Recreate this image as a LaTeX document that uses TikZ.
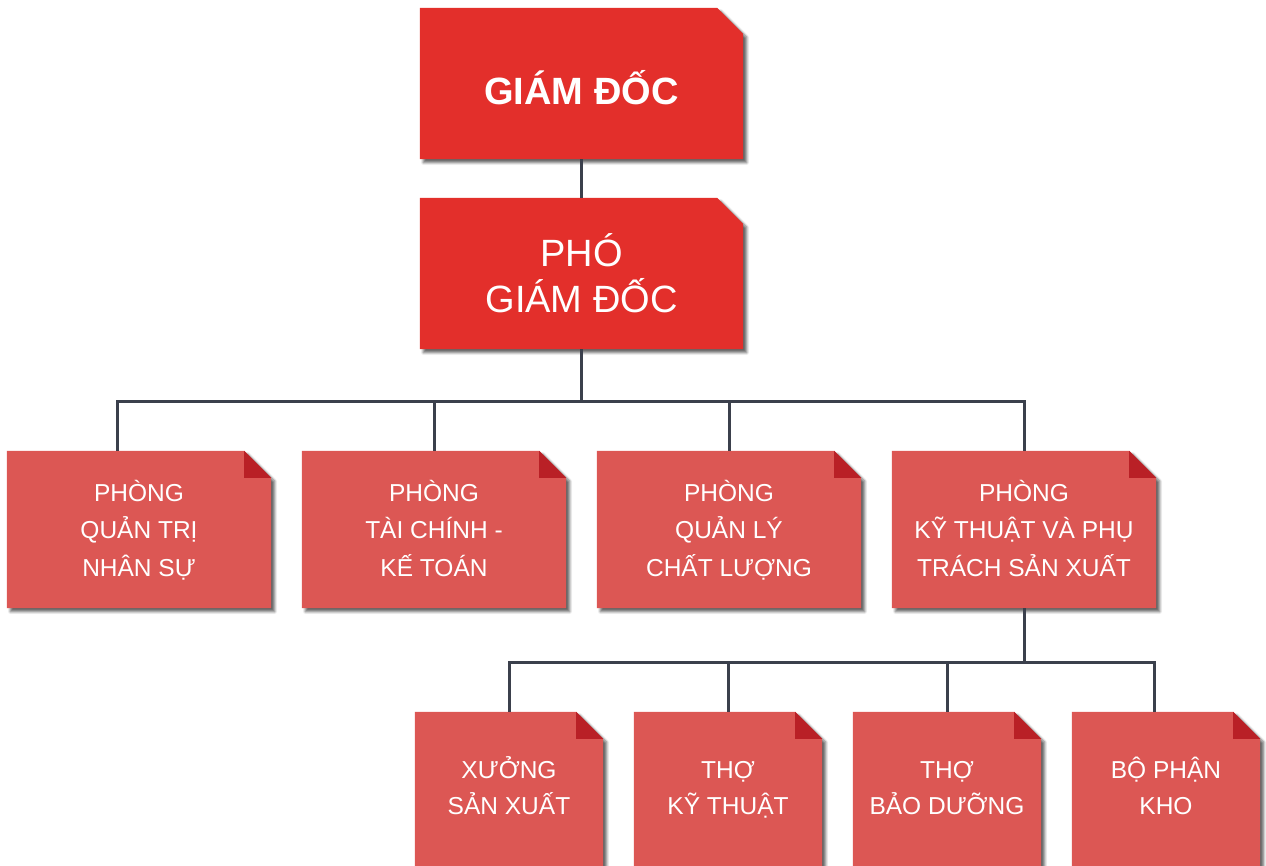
\documentclass[tikz,border=0pt]{standalone}
\usepackage{fontspec}
\setmainfont{Liberation Sans}
\usetikzlibrary{shadows.blur,calc}
\definecolor{topred}{HTML}{E32F2B}
\definecolor{boxred}{HTML}{DC5754}
\definecolor{foldred}{HTML}{B92026}
\definecolor{linec}{HTML}{3B404C}
\pgfdeclarelayer{bg}
\pgfsetlayers{bg,main}
\newcommand{\cutshape}[3]{% node, cut size, colour
  \path[fill=#3, shad] (#1.north west) -- ($(#1.north east)+(-#2,0)$) -- ($(#1.north east)+(0,#2)$) -- (#1.south east) -- (#1.south west) -- cycle;}
\newcommand{\foldmark}[2]{% node, size
  \fill[foldred] ($(#1.north east)+(-#2,0)$) -- ($(#1.north east)+(-#2,#2)$) -- ($(#1.north east)+(0,#2)$) -- cycle;}
\newcommand{\topph}{\vphantom{Ở}}
\newcommand{\botph}{\vphantom{Ợ}}
\begin{document}
\begin{tikzpicture}[x=1pt,y=-1pt,
  shad/.style={blur shadow={shadow xshift=3.5pt,shadow yshift=-3.5pt,shadow opacity=60,shadow blur radius=2.5pt,shadow blur steps=6}},
  base/.style={rectangle, inner sep=0pt, align=center, text=white},
  topbox/.style={base, minimum width=323pt, minimum height=151pt, font=\fontsize{38}{46}\selectfont},
  midbox/.style={base, minimum width=264pt, minimum height=157pt, font=\fontsize{24.5}{37.5}\selectfont},
  lowbox/.style={base, minimum width=188pt, minimum height=157pt, font=\fontsize{24.5}{36.5}\selectfont},
  conn/.style={draw=linec, line width=3pt}
]
\useasboundingbox (0,0) rectangle (1266,866);
\clip (0,0) rectangle (1266,866);

% top boxes
\node[topbox] (gd) at (581.5,83.5) {};
\node[base, font=\fontsize{38}{46}\selectfont\bfseries] (gdt) at (581.5,88) {GIÁM ĐỐC};
\node[topbox] (pgd) at (581.5,273.5) {PHÓ\\GIÁM ĐỐC};

% level 2
\node[midbox] (b1) at (139,529.5) {\topph PHÒNG\\QUẢN TRỊ\\NHÂN SỰ\botph};
\node[midbox] (b2) at (434,529.5) {\topph PHÒNG\\TÀI CHÍNH -\\KẾ TOÁN\botph};
\node[midbox] (b3) at (729,529.5) {\topph PHÒNG\\QUẢN LÝ\\CHẤT LƯỢNG\botph};
\node[midbox] (b4) at (1024,529.5) {\topph PHÒNG\\KỸ THUẬT VÀ PHỤ\\TRÁCH SẢN XUẤT\botph};

% level 3 (boxes run past the bottom edge)
\node[lowbox] (c1) at (509,790.5) {};
\node[lowbox] (c2) at (728,790.5) {};
\node[lowbox] (c3) at (947,790.5) {};
\node[lowbox] (c4) at (1166,790.5) {};
\node[lowbox, minimum height=0pt] (t1) at (509,787.5) {\topph XƯỞNG\\SẢN XUẤT\botph};
\node[lowbox, minimum height=0pt] (t2) at (728,787.5) {\topph THỢ\\KỸ THUẬT\botph};
\node[lowbox, minimum height=0pt] (t3) at (947,787.5) {\topph THỢ\\BẢO DƯỠNG\botph};
\node[lowbox, minimum height=0pt] (t4) at (1166,787.5) {\topph BỘ PHẬN\\KHO\botph};

\begin{pgfonlayer}{bg}
  \cutshape{gd}{26}{topred}
  \cutshape{pgd}{26}{topred}
  \foreach \n in {b1,b2,b3,b4,c1,c2,c3,c4}{\cutshape{\n}{27}{boxred}}
\end{pgfonlayer}
\foreach \n in {b1,b2,b3,b4,c1,c2,c3,c4}{\foldmark{\n}{27}}

% connectors
\draw[conn] (gd.south) -- (pgd.north);
\coordinate (bus1) at (581.5,401);
\coordinate (b1c) at ($(b1.north)+(-22,0)$);
\draw[conn] (pgd.south) -- (bus1);
\draw[conn] (bus1) -| (b1c);
\draw[conn] (bus1) -| (b2.north);
\draw[conn] (bus1) -| (b3.north);
\draw[conn] (bus1) -| (b4.north);
\coordinate (bus2) at (1024,662);
\coordinate (c4c) at ($(c4.north)+(-12,0)$);
\draw[conn] (b4.south) -- (bus2);
\draw[conn] (bus2) -| (c1.north);
\draw[conn] (bus2) -| (c2.north);
\draw[conn] (bus2) -| (c3.north);
\draw[conn] (bus2) -| (c4c);
\end{tikzpicture}
\end{document}
